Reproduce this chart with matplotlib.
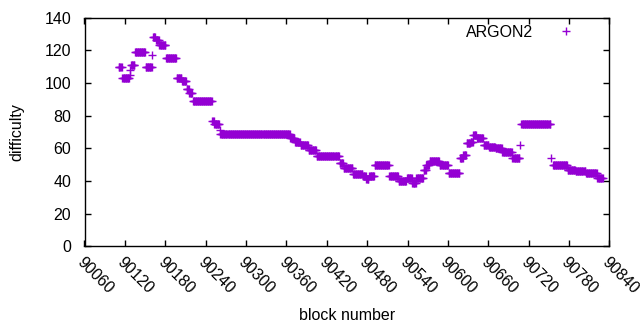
import numpy as np
import matplotlib
matplotlib.use('Agg')
import matplotlib.pyplot as plt

plt.rcParams['font.family'] = ['Liberation Sans', 'DejaVu Sans']

# difficulty per block, stored as runs of equal value (first block, last block, value)
run_start = [90111, 90116, 90127, 90128, 90129, 90135, 90151, 90161, 90162, 90166,
             90171, 90181, 90197, 90205, 90212, 90216, 90221, 90250, 90253, 90261,
             90262, 90366, 90373, 90381, 90393, 90405, 90439, 90445, 90459, 90474,
             90479, 90483, 90491, 90513, 90527, 90539, 90547, 90553, 90564, 90568,
             90573, 90588, 90601, 90618, 90623, 90628, 90634, 90638, 90643, 90653,
             90661, 90671, 90681, 90696, 90707, 90709, 90753, 90756, 90778, 90790,
             90805, 90822]
run_end = [90115, 90126, 90127, 90128, 90134, 90150, 90160, 90161, 90165, 90170,
           90180, 90196, 90204, 90211, 90215, 90220, 90249, 90252, 90260, 90261,
           90365, 90372, 90380, 90392, 90404, 90438, 90444, 90458, 90473, 90478,
           90482, 90490, 90512, 90526, 90538, 90546, 90552, 90563, 90567, 90572,
           90587, 90600, 90617, 90622, 90627, 90633, 90637, 90642, 90652, 90660,
           90670, 90680, 90695, 90706, 90707, 90752, 90753, 90777, 90789, 90804,
           90821, 90830]
run_value = [110, 103, 105, 108, 111, 119, 110, 117, 128, 126,
             123, 115, 103, 101, 96, 94, 89, 77, 75, 71,
             69, 66, 64, 62, 59, 55, 51, 48, 44, 43,
             41, 43, 50, 43, 40, 42, 39, 42, 47, 50,
             52, 50, 45, 54, 56, 63, 64, 68, 66, 62,
             61, 60, 58, 54, 62, 75, 54, 50, 47, 46,
             45, 42]

xticks = list(range(90060, 90841, 60))
yticks = list(range(0, 141, 20))

blocks = np.concatenate([np.arange(s, e + 1) for s, e in zip(run_start, run_end)])
diff = np.concatenate([np.full(e - s + 1, v) for s, e, v in zip(run_start, run_end, run_value)])

fs = 11.5
fig = plt.figure(figsize=(6.4, 3.3), dpi=100)
ax = fig.add_axes([84.5/640, 1 - 246.4/330, (609.4-84.5)/640, (246.4-17.5)/330])

ax.plot(blocks, diff, linestyle='none', marker='+', color='#9400d3',
        markersize=5.5, markeredgewidth=1.0, label='ARGON2')

ax.set_xlim(90060, 90840)
ax.set_ylim(0, 140)
ax.set_xticks(xticks)
ax.set_yticks(yticks)
ax.set_xticklabels([str(t) for t in xticks], rotation=-45, ha='left', va='top',
                   rotation_mode='anchor')
ax.tick_params(direction='in', length=4, width=1, top=True, right=True,
               labelsize=fs, colors='black')
ax.tick_params(axis='x', pad=6)
ax.tick_params(axis='y', pad=9.5)
for s in ax.spines.values():
    s.set_linewidth(1)

ax.set_xlabel('block number', fontsize=fs)
ax.set_ylabel('difficulty', fontsize=fs)
ax.xaxis.set_label_coords(0.5, -(315 - 246.4) / 228.9)
ax.yaxis.set_label_coords(-(84.5 - 17) / 524.9, 0.5)
ax.xaxis.label.set_va('center')
ax.yaxis.label.set_va('center')

ax.legend(loc='upper right', bbox_to_anchor=(1 - 15/525, 1 - 1/229), borderaxespad=0,
          frameon=False, markerfirst=False, handlelength=2.8, handletextpad=0.65,
          fontsize=fs, numpoints=1)

fig.savefig('out.png', dpi=100)
